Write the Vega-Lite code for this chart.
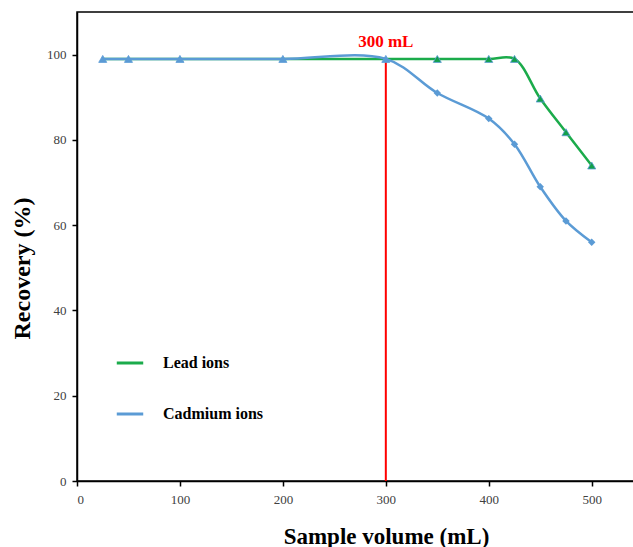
{
  "$schema": "https://vega.github.io/schema/vega-lite/v6.json",
  "width": 560,
  "height": 469,
  "autosize": {"type": "none"},
  "padding": {"left": 77, "top": 12, "right": 0, "bottom": 66},
  "background": "white",
  "config": {
    "view": {"stroke": "black", "strokeWidth": 1.5},
    "font": "Liberation Serif",
    "axis": {"grid": false, "domainColor": "black", "domainWidth": 1.5, "tickColor": "black", "tickWidth": 1.5, "tickSize": 5, "labelFont": "Liberation Serif", "labelFontSize": 13, "labelColor": "#404040", "titleFont": "Liberation Serif", "titleFontWeight": "bold", "titleColor": "black"}
  },
  "datasets": {
    "rec": [
      {"volume": 25, "recovery": 99, "series": "Lead ions"},
      {"volume": 50, "recovery": 99, "series": "Lead ions"},
      {"volume": 100, "recovery": 99, "series": "Lead ions"},
      {"volume": 200, "recovery": 99, "series": "Lead ions"},
      {"volume": 300, "recovery": 99, "series": "Lead ions"},
      {"volume": 350, "recovery": 99, "series": "Lead ions"},
      {"volume": 400, "recovery": 99, "series": "Lead ions"},
      {"volume": 425, "recovery": 99, "series": "Lead ions"},
      {"volume": 450, "recovery": 89.7, "series": "Lead ions"},
      {"volume": 475, "recovery": 81.8, "series": "Lead ions"},
      {"volume": 500, "recovery": 74, "series": "Lead ions"},
      {"volume": 25, "recovery": 99, "series": "Cadmium ions"},
      {"volume": 50, "recovery": 99, "series": "Cadmium ions"},
      {"volume": 100, "recovery": 99, "series": "Cadmium ions"},
      {"volume": 200, "recovery": 99, "series": "Cadmium ions"},
      {"volume": 300, "recovery": 99, "series": "Cadmium ions"},
      {"volume": 350, "recovery": 91, "series": "Cadmium ions"},
      {"volume": 400, "recovery": 85, "series": "Cadmium ions"},
      {"volume": 425, "recovery": 79, "series": "Cadmium ions"},
      {"volume": 450, "recovery": 69, "series": "Cadmium ions"},
      {"volume": 475, "recovery": 61, "series": "Cadmium ions"},
      {"volume": 500, "recovery": 56, "series": "Cadmium ions"}
    ],
    "marker": [{"volume": 300, "low": 0, "high": 99, "labelY": 103, "label": "300 mL"}]
  },
  "encoding": {
    "x": {"field": "volume", "type": "quantitative", "scale": {"domain": [0, 544], "nice": false}, "axis": {"values": [0, 100, 200, 300, 400, 500], "title": "Sample volume (mL)", "labelPadding": 7, "titleFontSize": 23, "titleX": 309, "titleY": 62, "titleAlign": "center", "titleBaseline": "alphabetic"}},
    "y": {"field": "recovery", "type": "quantitative", "scale": {"domain": [0, 110], "nice": false}, "axis": {"values": [0, 20, 40, 60, 80, 100], "title": "Recovery (%)", "labelPadding": 6, "titleFontSize": 24, "titleX": -43, "titleY": 256, "titleAlign": "center", "titleBaseline": "bottom", "titleAngle": -90}}
  },
  "layer": [
    {
      "data": {"name": "marker"},
      "mark": {"type": "rule", "color": "#ff0000", "strokeWidth": 2},
      "encoding": {"x": {"field": "volume", "type": "quantitative"}, "y": {"field": "low", "type": "quantitative"}, "y2": {"field": "high"}}
    },
    {
      "data": {"name": "marker"},
      "mark": {"type": "text", "color": "#ff0000", "font": "Liberation Serif", "fontSize": 17, "fontWeight": "bold", "baseline": "middle", "align": "center"},
      "encoding": {"x": {"field": "volume", "type": "quantitative"}, "y": {"field": "labelY", "type": "quantitative"}, "text": {"field": "label"}}
    },
    {
      "data": {"name": "rec"},
      "transform": [{"filter": "datum.series === 'Lead ions'"}],
      "mark": {"type": "line", "strokeWidth": 2.5, "interpolate": "catmull-rom"},
      "encoding": {
        "color": {"field": "series", "type": "nominal", "scale": {"domain": ["Lead ions", "Cadmium ions"], "range": ["#1bab4b", "#5b9bd5"]},
          "legend": {"title": null, "orient": "none", "legendX": 38, "legendY": 336, "direction": "vertical", "symbolType": "stroke", "symbolSize": 700, "symbolStrokeWidth": 3, "labelFont": "Liberation Serif", "labelFontSize": 16, "labelFontWeight": "bold", "labelColor": "black", "labelOffset": 18, "rowPadding": 28}}
      }
    },
    {
      "data": {"name": "rec"},
      "transform": [{"filter": "datum.series === 'Cadmium ions'"}],
      "mark": {"type": "line", "strokeWidth": 2.5, "interpolate": "catmull-rom"},
      "encoding": {"color": {"field": "series", "type": "nominal"}}
    },
    {
      "data": {"name": "rec"},
      "transform": [{"filter": "datum.series === 'Cadmium ions' && datum.volume > 300"}],
      "mark": {"type": "point", "shape": "diamond", "filled": true, "size": 55, "color": "#5b9bd5", "opacity": 1},
      "encoding": {}
    },
    {
      "data": {"name": "rec"},
      "transform": [{"filter": "datum.series === 'Lead ions'"}],
      "mark": {"type": "point", "shape": "triangle-up", "filled": true, "size": 65, "opacity": 1, "stroke": "#5b9bd5", "strokeWidth": 0.8},
      "encoding": {"fill": {"condition": {"test": "datum.volume <= 300", "value": "#5b9bd5"}, "value": "#12a04a"}}
    }
  ]
}
